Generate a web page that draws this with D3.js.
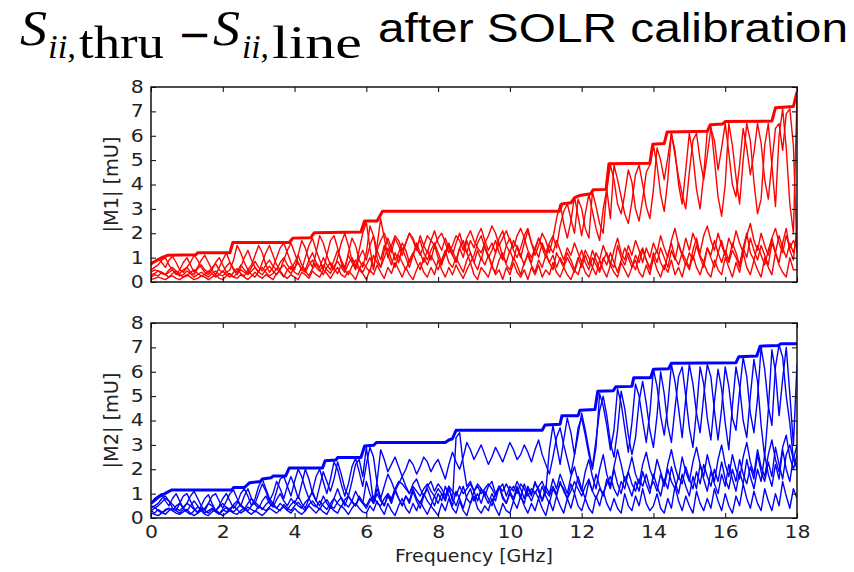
<!DOCTYPE html>
<html>
<head>
<meta charset="utf-8">
<script src="https://cdn.jsdelivr.net/npm/d3@7"></script>
<style>
body { margin: 0; background: #fff; }
</style>
</head>
<body>
<svg id="chart" width="854" height="572"></svg>
<script>
// sweep: one value every 0.1 GHz from 0 to 18 GHz (rows below = 2 GHz each)
var freq_step = 0.1;
var x_ticks = [0, 2, 4, 6, 8, 10, 12, 14, 16, 18];
var y_ticks = [0, 1, 2, 3, 4, 5, 6, 7, 8];

// |M1| (red), thick line = max hold, [GHz, mU]
var m1_envelope = [[0,0.75],[0.3,1.0],[0.48,1.1],[1.25,1.12],[1.3,1.2],[2.2,1.2],[2.28,1.62],[3.85,1.62],[3.95,1.8],[4.45,1.82],[4.55,2.02],[5.85,2.05],[5.95,2.5],[6.3,2.5],[6.45,2.9],[11.38,2.9],[11.45,3.2],[11.7,3.25],[11.8,3.45],[11.95,3.55],[12.25,3.62],[12.32,3.78],[12.68,3.8],[12.76,4.85],[13.9,4.87],[13.98,5.65],[14.3,5.68],[14.38,6.15],[15.5,6.18],[15.58,6.45],[15.92,6.48],[16.0,6.58],[17.3,6.6],[17.4,7.15],[17.9,7.2],[18,7.8]];

var m1_hi_a = [
	0.7,0.85,0.95,0.8,0.6,0.9,1.05,0.8,0.5,0.4,0.6,0.8,1.1,0.9,0.6,0.4,0.3,0.5,0.8,1.0,
	0.7,0.4,0.5,0.9,1.5,1.2,0.8,0.5,0.7,1.1,1.5,1.2,0.7,0.4,0.6,1.0,1.4,1.6,1.2,0.8,
	0.5,1.1,1.7,1.4,0.9,0.6,1.2,1.9,1.6,1.1,0.7,0.5,1.0,1.6,2.0,1.5,0.9,0.6,1.3,2.0,
	2.45,1.4,0.5,1.5,2.6,1.8,1.0,1.5,1.9,1.7,1.3,1.6,2.0,1.8,1.4,1.1,1.5,1.9,1.7,1.5,
	1.8,2.0,1.6,1.2,1.5,1.9,1.7,1.3,1.8,2.1,1.7,1.4,1.2,1.6,1.9,2.3,2.0,1.5,1.8,2.1,
	1.7,1.4,1.9,2.2,1.8,1.3,1.0,1.4,1.8,1.5,1.2,1.6,1.9,1.4,2.3,2.9,3.2,2.6,2.0,3.4,
	3.0,2.2,1.8,3.7,3.1,2.4,2.0,3.8,4.8,4.2,3.2,2.8,3.6,4.6,4.1,3.0,2.5,3.4,4.5,4.8,
	5.6,4.8,3.6,2.9,4.2,6.1,5.4,4.0,3.2,4.6,6.1,5.2,3.8,3.0,4.4,6.2,6.4,5.0,3.5,2.7,
	4.0,6.5,5.6,4.3,3.2,5.0,6.5,5.8,4.1,2.8,3.4,5.6,6.5,4.8,3.1,6.0,7.1,5.5,3.2,2.0,
	7.6];
var m1_hi_b = [
	0.5,0.6,0.7,0.9,1.0,0.7,0.5,0.3,0.5,0.8,1.0,0.7,0.4,0.6,0.9,1.1,0.8,0.5,0.3,0.6,
	0.9,1.2,0.8,0.5,0.3,0.6,1.0,1.3,0.9,0.6,0.4,0.8,1.2,1.5,1.1,0.7,0.5,0.9,1.3,1.6,
	1.2,0.8,0.5,1.0,1.5,1.8,1.3,0.9,0.5,1.1,1.7,1.9,1.4,0.8,0.5,1.2,1.8,1.5,0.9,0.6,
	1.2,2.3,1.9,1.0,0.6,1.3,1.8,1.4,0.9,1.2,1.6,1.3,0.8,1.1,1.5,1.7,1.2,0.9,1.3,1.6,
	1.2,0.8,1.1,1.5,1.3,0.9,1.4,1.7,1.2,0.8,1.1,1.6,1.9,1.4,1.0,1.3,1.7,1.2,0.9,1.5,
	1.8,1.3,1.0,1.4,1.9,2.2,1.6,1.1,1.5,2.0,1.7,1.2,1.8,2.6,3.2,2.4,1.8,2.5,3.5,2.7,
	1.9,2.8,3.6,2.9,2.2,1.7,3.0,3.8,2.6,4.8,4.2,3.5,2.8,2.4,3.3,4.4,4.8,4.0,3.1,2.6,
	3.8,5.5,5.0,4.2,5.1,6.1,5.2,4.3,3.6,3.0,4.5,5.8,6.1,5.0,4.2,5.2,6.3,5.8,4.6,5.5,
	6.5,5.3,4.0,3.5,4.8,6.3,5.5,4.4,5.3,6.5,5.7,4.2,3.4,4.9,6.3,6.5,5.4,6.9,7.1,5.6,
	1.2];
var m1_mid = [
	0.3,0.35,0.45,0.4,0.3,0.5,0.6,0.45,0.35,0.5,0.6,0.4,0.3,0.55,0.7,0.5,0.4,0.6,0.75,0.5,
	0.4,0.65,0.8,0.55,0.4,0.7,0.5,0.35,0.6,0.85,0.6,0.45,0.7,0.9,0.65,0.5,0.8,1.0,0.7,0.5,
	0.8,1.1,0.7,0.5,0.9,1.2,0.8,0.6,1.0,0.7,0.5,0.9,1.3,0.9,0.6,1.1,0.8,0.5,1.0,1.3,
	0.9,1.5,1.9,1.3,1.7,2.0,1.6,1.2,1.8,1.5,1.1,1.6,2.0,1.7,1.3,1.9,1.5,1.2,1.7,2.1,
	1.6,1.3,1.8,1.4,1.1,1.6,2.0,1.5,1.2,1.7,1.4,1.9,2.2,1.7,1.3,1.6,1.2,1.8,2.1,1.5,
	1.2,1.7,1.4,1.0,1.6,2.1,1.6,1.3,1.8,1.4,1.0,1.5,1.2,1.7,1.3,0.9,1.4,1.1,1.6,1.2,
	0.8,1.3,1.0,0.6,1.2,0.9,1.5,1.1,0.7,1.3,1.8,1.2,0.9,1.5,1.1,1.7,1.3,0.8,1.4,1.0,
	1.6,1.2,1.9,1.4,1.0,1.7,2.2,1.5,1.1,1.8,1.3,2.0,1.6,1.2,1.9,2.3,1.7,1.3,2.0,1.5,
	1.1,1.8,1.4,2.1,1.6,1.2,1.9,2.4,1.7,1.3,2.0,1.5,1.1,1.8,2.2,1.6,1.2,1.9,1.4,1.7,
	1.4];
var m1_low_a = [
	0.4,0.5,0.45,0.35,0.3,0.4,0.5,0.35,0.25,0.3,0.45,0.35,0.2,0.3,0.4,0.3,0.2,0.35,0.45,0.3,
	0.25,0.4,0.3,0.2,0.35,0.5,0.4,0.3,0.45,0.6,0.4,0.3,0.5,0.65,0.45,0.3,0.55,0.7,0.5,0.35,
	0.6,0.8,0.5,0.4,0.7,0.9,0.6,0.45,0.7,0.5,0.35,0.65,0.85,0.6,0.4,0.75,1.0,0.7,0.5,0.8,
	0.6,0.4,1.1,0.8,0.6,1.0,1.4,0.9,0.6,1.1,0.8,0.5,0.9,1.2,0.8,0.5,1.0,0.7,1.1,0.8,
	0.5,0.9,1.3,0.8,0.6,1.0,0.7,0.4,0.9,1.2,0.8,0.5,1.0,0.7,1.1,0.6,0.4,0.9,1.2,0.7,
	0.5,1.0,0.7,0.3,0.8,1.1,0.7,0.4,0.9,0.6,1.1,0.8,0.5,1.2,0.9,0.6,1.0,0.7,0.4,0.9,
	1.3,0.8,0.5,1.0,0.7,0.4,0.9,1.2,0.8,0.6,1.5,1.0,0.7,1.2,0.8,0.5,1.1,1.4,0.9,0.6,
	1.0,1.3,0.8,0.5,1.1,1.6,1.0,0.7,1.2,0.9,0.6,1.3,1.8,1.1,0.8,1.4,1.0,0.6,1.2,1.7,
	1.1,0.8,1.3,1.0,0.6,1.4,2.0,1.2,0.9,1.5,1.1,0.7,1.3,1.8,1.2,0.8,1.6,2.2,1.3,0.9,
	2.3];
var m1_low_b = [
	0.1,0.15,0.2,0.15,0.1,0.2,0.25,0.15,0.1,0.2,0.3,0.2,0.1,0.15,0.25,0.2,0.1,0.2,0.3,0.15,
	0.1,0.25,0.35,0.2,0.15,0.3,0.2,0.1,0.25,0.4,0.25,0.15,0.3,0.2,0.1,0.35,0.45,0.25,0.15,0.3,
	0.2,0.1,0.4,0.3,0.15,0.45,0.3,0.2,0.5,0.35,0.15,0.4,0.6,0.3,0.2,0.45,0.3,0.1,0.5,0.35,
	0.1,0.5,0.3,0.7,0.4,0.15,0.6,0.35,0.8,0.5,0.2,0.6,0.3,0.1,0.5,0.8,0.4,0.2,0.6,0.3,
	0.9,0.5,0.2,0.6,0.3,0.7,0.4,0.15,0.5,0.8,0.3,0.1,0.6,0.4,0.2,0.7,0.3,0.5,0.1,0.6,
	0.3,0.8,0.4,0.2,0.5,0.1,0.6,0.3,0.7,0.2,0.5,0.3,0.8,0.4,0.2,0.6,0.3,0.1,0.5,0.3,
	0.8,0.4,0.2,0.6,0.3,0.9,0.5,0.2,0.7,0.4,0.2,0.8,0.5,0.2,0.6,0.9,0.4,0.2,0.7,0.3,
	1.0,0.5,0.2,0.7,0.4,0.9,0.3,0.6,0.2,0.8,0.5,1.1,0.6,0.3,0.8,0.4,0.2,0.9,0.5,0.3,
	1.0,0.6,0.2,0.8,0.4,1.2,0.6,0.3,0.9,0.5,0.2,1.0,0.6,0.3,1.2,0.7,0.4,0.2,1.0,0.5,
	0.5];
var m1_low_c = [
	0.2,0.3,0.25,0.4,0.3,0.2,0.35,0.45,0.3,0.2,0.25,0.4,0.5,0.35,0.25,0.3,0.45,0.35,0.2,0.3,
	0.45,0.3,0.2,0.4,0.55,0.35,0.25,0.5,0.3,0.2,0.45,0.6,0.4,0.25,0.35,0.55,0.4,0.2,0.5,0.65,
	0.4,0.3,0.6,0.45,0.25,0.55,0.75,0.5,0.3,0.6,0.8,0.55,0.35,0.7,0.5,0.3,0.65,0.9,0.6,0.4,
	0.7,1.0,0.6,1.3,0.9,1.5,1.1,0.7,1.2,0.8,1.4,1.0,0.6,1.1,1.6,1.2,0.8,1.3,0.9,1.5,
	1.0,0.7,1.2,1.6,1.1,0.8,1.4,1.0,1.7,1.2,0.8,1.3,0.9,1.5,1.1,0.7,1.2,1.6,1.0,0.8,
	1.3,0.9,1.5,1.1,0.7,1.2,0.8,1.4,1.0,1.6,1.2,0.8,1.1,0.6,1.0,0.7,1.2,0.9,0.5,1.0,
	0.6,1.1,0.7,1.3,0.9,0.5,1.0,0.7,1.2,0.8,0.4,0.9,1.4,1.0,0.6,1.1,0.8,1.3,0.9,0.5,
	1.2,0.8,1.4,1.0,0.6,1.3,0.9,1.6,1.1,0.7,1.2,0.9,1.5,1.0,0.6,1.4,1.1,1.7,1.2,0.8,
	1.3,0.9,1.6,1.2,0.7,1.4,1.0,1.8,1.3,0.9,1.5,1.1,0.7,1.6,1.2,1.9,1.4,1.0,1.6,1.2,
	1.8];

// |M2| (blue)
var m2_envelope = [[0,0.6],[0.2,0.85],[0.45,1.05],[0.57,1.15],[2.25,1.15],[2.3,1.25],[2.6,1.25],[2.75,1.45],[3.05,1.5],[3.1,1.6],[3.35,1.65],[3.4,1.72],[3.75,1.72],[3.85,2.05],[4.78,2.05],[4.85,2.35],[5.15,2.38],[5.2,2.48],[5.85,2.48],[5.95,2.95],[6.2,2.98],[6.28,3.1],[8.2,3.1],[8.3,3.2],[8.4,3.25],[8.5,3.6],[10.9,3.6],[10.98,3.82],[11.4,3.85],[11.45,4.2],[11.9,4.2],[11.95,4.42],[12.37,4.45],[12.45,5.2],[12.88,5.22],[12.95,5.38],[13.4,5.4],[13.45,5.75],[13.92,5.75],[14.0,6.1],[14.42,6.12],[14.5,6.35],[16.3,6.37],[16.38,6.62],[16.88,6.65],[16.97,7.05],[17.48,7.08],[17.55,7.15],[18,7.15]];

var m2_hi_a = [
	0.6,0.8,0.9,1.0,0.7,0.5,0.8,1.0,0.7,0.4,0.6,0.9,1.1,0.8,0.5,0.3,0.6,0.9,1.0,0.7,
	0.4,0.7,1.0,1.15,0.8,0.5,0.9,1.2,0.8,0.6,1.0,1.4,1.1,0.7,1.0,1.5,1.2,0.8,1.3,1.7,
	1.3,0.8,1.4,2.0,1.6,1.0,0.7,1.3,1.9,1.5,1.1,1.6,2.3,1.8,1.2,0.9,1.5,2.2,2.4,1.7,
	2.9,1.8,0.6,1.5,2.8,2.4,1.9,2.2,2.5,2.1,1.7,2.0,2.4,2.2,1.8,2.1,2.5,2.3,1.9,2.2,
	2.4,2.0,1.6,2.2,2.7,2.3,2.0,2.5,3.1,2.8,2.4,2.7,3.0,2.6,2.2,2.5,2.9,2.6,2.3,2.7,
	3.1,2.8,2.4,2.6,3.0,2.7,2.3,2.8,3.2,2.6,2.2,1.8,2.5,3.3,3.7,3.0,2.4,1.8,2.6,3.7,
	4.1,3.4,2.6,2.1,3.2,4.4,5.0,4.2,3.1,2.5,3.6,5.2,4.5,3.4,2.6,3.3,4.8,5.6,4.7,3.6,
	2.9,4.2,6.0,5.1,3.8,3.1,4.5,5.8,6.2,5.0,3.7,2.9,4.4,6.2,5.5,4.1,3.2,4.8,6.1,5.3,
	3.9,2.8,4.6,6.2,5.4,4.0,3.3,5.0,6.5,5.6,3.8,2.5,4.4,6.9,6.0,4.2,5.7,7.0,5.1,3.0,
	6.3];
var m2_hi_b = [
	0.4,0.5,0.6,0.8,0.9,0.7,0.4,0.3,0.6,0.9,1.0,0.7,0.4,0.2,0.5,0.8,0.95,0.6,0.3,0.5,
	0.8,1.0,0.7,0.4,0.6,1.0,1.2,0.9,0.5,0.8,1.3,1.6,1.2,0.8,0.6,1.1,1.6,1.7,1.3,0.9,
	1.5,2.0,1.7,1.2,0.8,1.1,1.7,2.0,1.5,1.0,1.6,2.3,2.0,1.4,0.9,1.4,2.1,2.45,1.9,1.3,
	2.2,2.9,2.5,1.4,0.8,1.3,1.8,1.5,1.1,1.4,1.7,1.3,1.0,1.4,1.6,1.2,0.9,1.3,1.5,1.1,
	1.4,1.2,0.9,1.3,0.7,3.3,3.5,2.2,1.3,1.5,1.1,1.4,1.2,0.9,1.3,1.5,1.0,1.2,1.4,0.9,
	1.3,1.1,1.5,1.2,0.8,1.3,1.0,1.4,1.2,0.7,1.1,2.8,3.8,3.0,2.2,3.2,4.1,3.5,2.6,3.4,
	4.3,3.6,2.8,2.0,2.9,5.1,4.6,3.8,2.8,3.6,5.3,4.7,3.7,2.7,3.9,5.5,5.0,4.0,3.1,4.3,
	6.1,5.4,4.2,3.4,4.6,6.3,5.6,4.5,3.3,4.9,6.3,5.5,4.3,3.5,5.0,6.3,5.8,4.4,3.2,4.5,
	6.2,5.4,4.1,3.6,5.2,6.6,5.8,4.3,3.5,4.9,7.0,6.1,4.6,3.8,6.2,7.1,6.6,5.0,3.9,2.4,
	2.2];
var m2_mid = [
	0.5,0.45,0.3,0.2,0.35,0.4,0.3,0.5,0.6,0.4,0.3,0.5,0.7,0.5,0.3,0.4,0.6,0.5,0.3,0.45,
	0.6,0.4,0.3,0.55,0.7,0.5,0.35,0.6,0.8,0.55,0.4,0.7,0.9,0.6,0.45,0.75,1.0,0.7,0.5,0.8,
	0.6,0.9,0.6,0.4,0.8,1.1,0.7,0.5,0.9,0.6,0.4,0.8,1.2,0.8,0.5,0.9,0.7,1.1,0.8,0.6,
	1.5,1.0,0.6,1.2,0.8,0.5,1.0,0.7,1.2,0.8,0.5,0.9,0.6,1.1,0.7,0.4,0.9,1.2,0.8,0.5,
	1.0,0.7,1.3,0.9,0.5,1.1,0.8,0.4,0.9,1.2,0.7,1.0,0.6,1.1,0.8,0.5,1.0,1.3,0.8,0.6,
	1.1,0.8,1.3,0.9,0.6,1.2,0.9,1.5,1.1,0.7,1.3,1.0,1.6,1.2,1.8,1.4,1.0,1.7,2.1,1.5,
	1.1,1.9,2.4,1.7,1.2,2.0,2.6,1.8,1.3,2.1,2.8,2.2,1.5,1.9,2.5,1.8,1.4,2.2,2.7,2.0,
	1.6,2.4,1.9,1.4,2.2,2.8,2.1,1.6,2.5,1.9,1.5,2.3,2.9,2.2,1.7,2.6,2.0,1.5,2.4,3.0,
	2.2,1.7,2.6,2.0,1.6,2.5,3.1,2.3,1.8,2.8,2.1,1.7,2.6,3.2,2.4,1.9,2.9,3.4,2.5,2.0,
	2.6];
var m2_low_a = [
	0.3,0.4,0.5,0.65,0.8,0.7,0.55,0.4,0.3,0.45,0.6,0.5,0.35,0.25,0.4,0.3,0.2,0.35,0.25,0.15,
	0.3,0.45,0.35,0.25,0.4,0.55,0.4,0.3,0.5,0.65,0.5,0.35,0.55,0.7,0.5,0.4,0.6,0.45,0.35,0.55,
	0.7,0.5,0.4,0.65,0.8,0.55,0.45,0.7,0.5,0.35,0.6,0.8,0.6,0.45,0.75,0.9,0.65,0.5,0.8,0.6,
	0.4,0.7,0.9,0.6,0.5,0.8,1.0,0.8,1.2,1.5,1.4,1.2,1.0,1.3,1.1,0.9,1.2,1.4,1.1,0.9,
	1.2,1.0,0.8,1.3,1.1,0.9,1.3,1.0,1.2,1.4,1.1,1.3,1.0,1.2,1.4,1.2,0.9,1.3,1.1,1.4,
	1.1,1.3,1.0,1.4,1.2,0.9,1.2,1.0,1.3,1.5,1.1,0.9,1.3,1.0,1.4,1.2,0.8,1.1,1.5,1.2,
	0.9,1.3,1.6,1.1,0.8,1.2,1.0,1.4,1.7,1.2,0.9,1.5,1.2,1.9,1.4,1.1,1.6,1.3,1.8,1.2,
	1.5,1.1,1.8,1.3,2.0,1.5,1.2,1.7,1.4,2.1,1.6,1.2,1.9,1.4,2.2,1.7,1.3,2.0,1.5,2.3,
	1.6,1.2,2.0,1.5,2.4,1.8,1.4,2.1,1.6,2.6,1.9,1.5,2.3,1.7,2.9,2.2,1.6,2.6,3.0,2.4,
	3.0];
var m2_low_b = [
	0.2,0.15,0.1,0.2,0.3,0.4,0.3,0.2,0.15,0.25,0.35,0.2,0.1,0.2,0.3,0.15,0.1,0.25,0.35,0.2,
	0.1,0.2,0.3,0.2,0.15,0.3,0.4,0.25,0.15,0.3,0.2,0.1,0.25,0.4,0.3,0.2,0.35,0.45,0.3,0.2,
	0.4,0.25,0.15,0.3,0.5,0.35,0.2,0.4,0.25,0.15,0.45,0.3,0.2,0.5,0.35,0.15,0.4,0.6,0.4,0.25,
	0.2,0.5,0.3,0.7,0.4,0.15,0.6,0.3,0.1,0.5,0.8,0.4,0.2,0.6,0.3,0.7,0.4,0.15,0.5,0.3,
	0.1,0.6,0.3,0.8,0.4,0.2,0.7,0.3,0.1,0.6,0.9,0.4,0.2,0.5,0.3,0.8,0.4,0.1,0.6,0.3,
	0.2,0.7,0.4,0.9,0.5,0.2,0.6,0.3,0.8,0.4,0.1,0.7,0.3,0.9,0.5,0.2,0.8,0.4,1.0,0.5,
	0.3,0.8,0.4,0.2,0.9,0.5,1.1,0.6,0.3,0.8,0.4,0.2,1.0,0.5,0.3,0.9,0.5,1.2,0.6,0.3,
	0.5,1.0,0.4,0.2,0.8,0.4,1.3,0.7,0.3,0.9,0.5,0.2,1.1,0.6,0.3,0.8,0.4,1.2,0.7,0.3,
	1.0,0.5,0.2,0.9,0.5,1.4,0.8,0.4,1.1,0.6,0.3,1.2,0.7,0.3,1.0,0.5,1.5,0.9,0.4,1.2,
	0.8];
var m2_low_c = [
	0.3,0.2,0.35,0.25,0.15,0.3,0.4,0.3,0.2,0.35,0.25,0.15,0.3,0.45,0.35,0.2,0.3,0.4,0.3,0.2,
	0.35,0.25,0.4,0.5,0.35,0.2,0.3,0.45,0.35,0.25,0.5,0.4,0.3,0.45,0.6,0.4,0.3,0.55,0.4,0.3,
	0.5,0.65,0.45,0.3,0.55,0.7,0.5,0.35,0.6,0.75,0.5,0.4,0.65,0.85,0.6,0.45,0.7,0.5,0.9,0.65,
	0.5,0.8,0.6,1.0,0.7,0.5,0.9,0.6,1.1,0.8,0.5,0.9,0.7,1.2,0.8,0.6,1.0,0.7,0.5,0.9,
	0.6,1.0,0.7,1.2,0.8,0.5,0.9,1.3,0.8,0.6,1.1,0.7,1.2,0.9,0.6,1.0,0.7,1.3,0.9,0.6,
	1.0,0.7,1.2,0.8,1.4,1.0,0.7,1.1,0.8,1.3,0.9,0.6,1.2,0.9,1.5,1.1,0.8,1.4,1.0,1.7,
	1.2,0.8,1.5,1.1,1.8,1.3,0.9,1.6,1.2,2.0,1.4,1.0,1.7,1.3,0.9,1.5,1.1,1.9,1.4,1.0,
	1.8,1.3,0.9,1.6,1.2,2.1,1.5,1.0,1.8,1.3,0.9,1.7,1.2,2.2,1.6,1.1,1.9,1.4,1.0,1.8,
	1.3,2.2,1.6,1.1,1.9,1.4,2.4,1.7,1.2,2.0,1.5,2.6,1.8,1.3,2.2,1.6,2.8,2.0,1.5,2.5,
	2.0];

var svg = d3.select("#chart");
var plot_left = 151, plot_right = 797, plot_height = 195;

var x = d3.scaleLinear().domain([0, 18]).range([plot_left, plot_right]);

function trace_points(values) {
	return values.map(function(v, i) {
		return [i * freq_step, v];
	});
}

function draw_panel(top, color, envelope, traces, label, clip_id, show_x_labels) {
	var y = d3.scaleLinear().domain([0, 8]).range([top + plot_height, top]);
	var line = d3.line()
		.x(function(d) { return x(d[0]); })
		.y(function(d) { return y(d[1]); });

	svg.append("clipPath").attr("id", clip_id)
		.append("rect")
		.attr("x", plot_left).attr("y", top - 2)
		.attr("width", plot_right - plot_left).attr("height", plot_height + 2);

	var g = svg.append("g").attr("clip-path", "url(#" + clip_id + ")");
	traces.forEach(function(t) {
		g.append("path")
			.attr("d", line(trace_points(t)))
			.attr("fill", "none")
			.attr("stroke", color)
			.attr("stroke-width", 1.4)
			.attr("stroke-linejoin", "round");
	});
	g.append("path")
		.attr("d", line(envelope))
		.attr("fill", "none")
		.attr("stroke", color)
		.attr("stroke-width", 3)
		.attr("stroke-linejoin", "round");

	// ticks inside on all four sides, like classic matplotlib
	var ax_left = svg.append("g").attr("transform", "translate(" + plot_left + ",0)")
		.call(d3.axisLeft(y).tickValues(y_ticks).tickSize(-5).tickPadding(9).tickFormat(d3.format("d")));
	var ax_right = svg.append("g").attr("transform", "translate(" + plot_right + ",0)")
		.call(d3.axisRight(y).tickValues(y_ticks).tickSize(-5).tickFormat(""));
	var ax_top = svg.append("g").attr("transform", "translate(0," + top + ")")
		.call(d3.axisTop(x).tickValues(x_ticks).tickSize(-5).tickFormat(""));
	var ax_bottom = svg.append("g").attr("transform", "translate(0," + (top + plot_height) + ")")
		.call(d3.axisBottom(x).tickValues(x_ticks).tickSize(-5).tickPadding(8)
			.tickFormat(show_x_labels ? d3.format("d") : ""));

	[ax_left, ax_right, ax_top, ax_bottom].forEach(function(a) {
		a.select(".domain").remove();
		a.selectAll(".tick line").attr("stroke", "#000").attr("stroke-width", 1);
		a.selectAll(".tick text")
			.attr("fill", "#222")
			.attr("font-family", "DejaVu Sans")
			.attr("font-size", 17);
	});
	// the picture is a bit stretched sideways
	ax_left.selectAll(".tick text").attr("transform", "scale(1.2,1)").attr("x", -6);
	ax_bottom.selectAll(".tick text").attr("transform", "scale(1.2,1)");

	svg.append("rect")
		.attr("x", plot_left).attr("y", top)
		.attr("width", plot_right - plot_left).attr("height", plot_height)
		.attr("fill", "none").attr("stroke", "#111").attr("stroke-width", 1.5);

	svg.append("text")
		.attr("transform", "translate(118," + (top + plot_height / 2) + ") rotate(-90)")
		.attr("text-anchor", "middle")
		.attr("font-family", "DejaVu Sans")
		.attr("font-size", 19)
		.attr("fill", "#222")
		.attr("textLength", 96)
		.attr("lengthAdjust", "spacingAndGlyphs")
		.text(label);
}

draw_panel(87, "#ff0000", m1_envelope, [m1_low_b, m1_low_c, m1_low_a, m1_mid, m1_hi_b, m1_hi_a], "|M1| [mU]", "clip1", false);
draw_panel(323, "#0000ff", m2_envelope, [m2_low_b, m2_low_c, m2_low_a, m2_mid, m2_hi_b, m2_hi_a], "|M2| [mU]", "clip2", true);

svg.append("text")
	.attr("x", 474).attr("y", 562)
	.attr("text-anchor", "middle")
	.attr("font-family", "DejaVu Sans")
	.attr("font-size", 17)
	.attr("fill", "#222")
	.attr("textLength", 158)
	.attr("lengthAdjust", "spacingAndGlyphs")
	.text("Frequency [GHz]");

// title: S_{ii,thru} - S_{ii,line} after SOLR calibration
var title_parts = [
	{ text: "S", x: 20, y: 45, size: 50, style: "italic", w: 27 },
	{ text: "ii,", x: 48, y: 58, size: 34, style: "italic", w: 28 },
	{ text: "thru", x: 79, y: 58, size: 46, style: "normal", w: 85 },
	{ text: "S", x: 213, y: 45, size: 50, style: "italic", w: 27 },
	{ text: "ii,", x: 242, y: 58, size: 34, style: "italic", w: 27 },
	{ text: "line", x: 272, y: 58, size: 46, style: "normal", w: 90 }
];
title_parts.forEach(function(p) {
	svg.append("text")
		.attr("x", p.x).attr("y", p.y)
		.attr("font-family", "Liberation Serif")
		.attr("font-style", p.style)
		.attr("font-size", p.size)
		.attr("fill", "#000")
		.attr("textLength", p.w)
		.attr("lengthAdjust", "spacingAndGlyphs")
		.text(p.text);
});
svg.append("text")
	.attr("x", 178).attr("y", 48)
	.attr("font-family", "DejaVu Sans")
	.attr("font-size", 40)
	.attr("fill", "#000")
	.text("\u2212");
svg.append("text")
	.attr("x", 378).attr("y", 42)
	.attr("font-family", "Liberation Sans")
	.attr("font-size", 40)
	.attr("fill", "#000")
	.attr("textLength", 470)
	.attr("lengthAdjust", "spacingAndGlyphs")
	.text("after SOLR calibration");
</script>
</body>
</html>
